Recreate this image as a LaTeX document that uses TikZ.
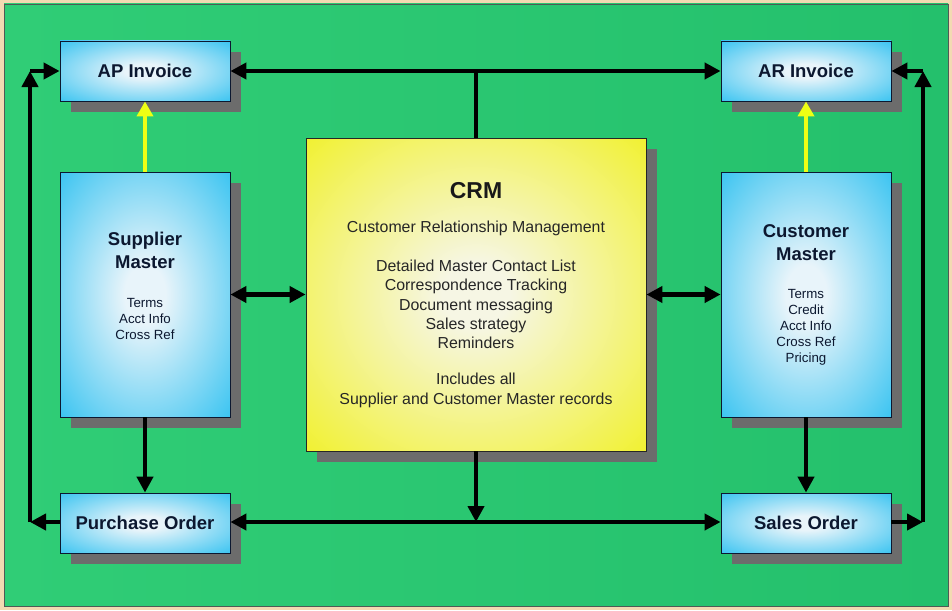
\documentclass[tikz,border=0pt]{standalone}
\usepackage{fontspec}
\setmainfont{Liberation Sans}
\usetikzlibrary{arrows.meta,shadows}
\definecolor{bgbeige}{RGB}{242,218,178}
\definecolor{fieldgreen}{RGB}{48,205,118}
\definecolor{fieldgreen2}{RGB}{36,192,108}
\definecolor{boxblue}{RGB}{44,192,240}
\definecolor{boxcenter}{RGB}{232,244,250}
\definecolor{crmyellow}{RGB}{240,240,10}
\definecolor{crmcenter}{RGB}{246,246,228}
\definecolor{shadowgray}{RGB}{108,108,108}
\definecolor{textnavy}{RGB}{12,24,48}
\definecolor{arrowyellow}{RGB}{238,255,20}
\definecolor{frameline}{RGB}{80,90,85}
\pgfdeclareradialshading{bluemist}{\pgfpointorigin}{color(0bp)=(boxcenter); color(6bp)=(boxcenter); color(38bp)=(boxblue); color(100bp)=(boxblue)}
\pgfdeclareradialshading{crmglow}{\pgfpointorigin}{color(0bp)=(crmcenter); color(5bp)=(crmcenter); color(42bp)=(crmyellow); color(100bp)=(crmyellow)}
\begin{document}
\begin{tikzpicture}[x=1pt,y=-1pt,
  bluebox/.style={draw=textnavy, line width=0.8pt, shading=bluemist,
    general shadow={fill=shadowgray, shadow xshift=11pt, shadow yshift=-11pt},
    inner sep=0pt, text=textnavy, font=\bfseries\fontsize{18.5}{23}\selectfont,
    minimum width=170pt},
  smallbox/.style={bluebox, minimum height=60pt},
  tallbox/.style={bluebox, minimum height=245pt},
  crmbox/.style={draw=black!85, line width=0.8pt, shading=crmglow,
    general shadow={fill=shadowgray, shadow xshift=11pt, shadow yshift=-11pt},
    inner sep=0pt, minimum width=340pt, minimum height=313pt},
  titletext/.style={align=center, text=textnavy, font=\bfseries\fontsize{18.5}{23}\selectfont, inner sep=0pt},
  listtext/.style={align=center, text=textnavy, font=\fontsize{13.3}{15.9}\selectfont, inner sep=0pt},
  crmtitle/.style={text=black!90, font=\bfseries\fontsize{23}{27}\selectfont, inner sep=0pt},
  crmtext/.style={align=center, text=black!85, font=\fontsize{15.9}{19.3}\selectfont, inner sep=0pt},
  conn/.style={line width=4.5pt, draw=black, -{Triangle[length=16pt,width=16pt]}},
  biconn/.style={line width=4.5pt, draw=black, {Triangle[length=16pt,width=16pt]}-{Triangle[length=16pt,width=16pt]}},
  plainconn/.style={line width=4.5pt, draw=black},
  yconn/.style={line width=3.8pt, draw=arrowyellow, -{Triangle[length=15pt,width=16pt]}}
]
\useasboundingbox (0,0) rectangle (952,610);
\fill[bgbeige] (0,0) rectangle (952,610);
\draw[frameline, line width=0.8pt, left color=fieldgreen, right color=fieldgreen2] (4,4) rectangle (948,606);

% boxes
\node[smallbox] (ap) at (145,71) {AP Invoice};
\node[smallbox] (ar) at (806,71) {AR Invoice};
\node[tallbox] (sm) at (145,294.5) {};
\node[tallbox] (cm) at (806,294.5) {};
\node[smallbox] (po) at (145,523) {Purchase Order};
\node[smallbox] (so) at (806,523) {Sales Order};
\node[crmbox] (crm) at (476,294.5) {};

% texts
\node[titletext] (smtitle) at (145,250.5) {Supplier\\Master};
\node[listtext] (smlist) at (145,319) {Terms\\Acct Info\\Cross Ref};
\node[titletext] (cmtitle) at (806,242.5) {Customer\\Master};
\node[listtext] (cmlist) at (806,327.5) {Terms\\Credit\\Acct Info\\Cross Ref\\Pricing};
\node[crmtitle] (crmhead) at (476,191) {CRM};
\node[crmtext] (crmsub) at (476,228) {Customer Relationship Management};
\node[crmtext] (crmfeat) at (476,304.5) {Detailed Master Contact List\\Correspondence Tracking\\Document messaging\\Sales strategy\\Reminders};
\node[crmtext] (crmincl) at (476,390.5) {Includes all\\Supplier and Customer Master records};

% junction coordinates
\coordinate (tl) at (30,71);
\coordinate (bl) at (30,522);
\coordinate (tr) at (923,71);
\coordinate (br) at (923,522);
\coordinate (topj) at (476,71);
\coordinate (botj) at (476,522);

% connectors
\draw[yconn] (sm.north) -- (ap.south);
\draw[yconn] (cm.north) -- (ar.south);
\draw[conn] (sm.south) -- (po.north);
\draw[conn] (cm.south) -- (so.north);
\draw[biconn] (sm.east) -- (crm.west);
\draw[biconn] (crm.east) -- (cm.west);
\draw[biconn] (ap.east) -- (ar.west);
\draw[biconn] ([yshift=1pt]po.east) -- ([yshift=1pt]so.west);
\draw[plainconn] (crm.north) -- (topj);
\draw[conn] (crm.south) -- (botj);
\draw[conn] ([yshift=1pt]po.west) -- (bl);
\draw[conn] (bl) -- (tl);
\draw[conn] (tl) -- (ap.west);
\draw[conn] ([yshift=1pt]so.east) -- (br);
\draw[conn] (br) -- (tr);
\draw[conn] (tr) -- (ar.east);
\end{tikzpicture}
\end{document}
